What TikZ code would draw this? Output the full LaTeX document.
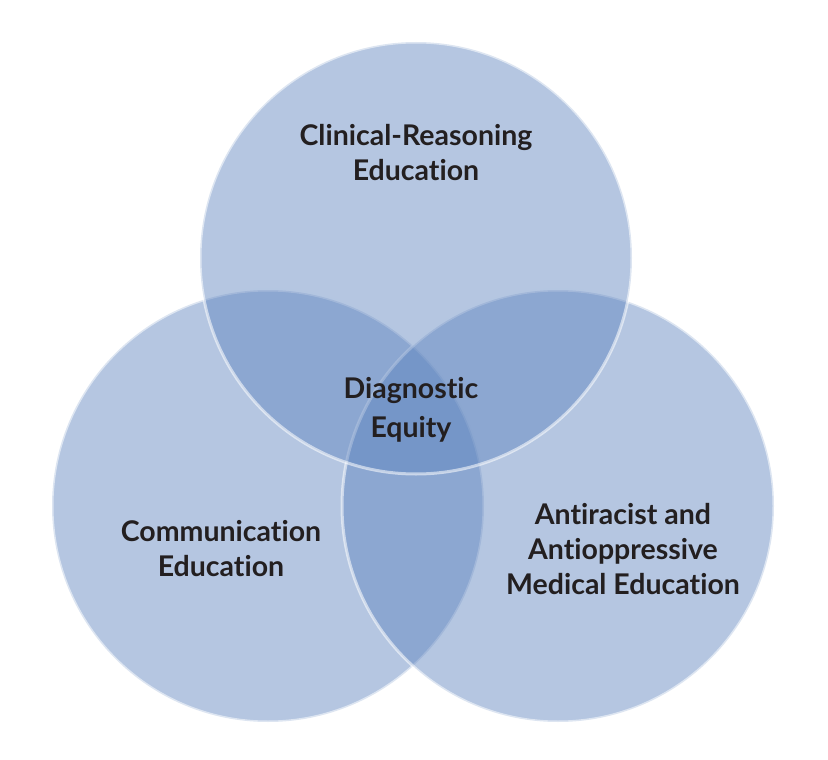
\documentclass[tikz,border=0pt]{standalone}
\usepackage{fontspec}
\setmainfont{Lato}[Ligatures={NoCommon}]
\usepackage{xcolor}
\usepackage{tikz}

\definecolor{vennblue}{RGB}{90,129,189}
\definecolor{textdark}{RGB}{35,31,32}

\begin{document}
\begin{tikzpicture}[x=1pt, y=-1pt,
    set/.style={fill=vennblue, fill opacity=0.45, draw=white, draw opacity=0.55, line width=3pt},
    label/.style={align=center, text=textdark, font=\bfseries\fontsize{28.5}{35}\selectfont}]
    \useasboundingbox (0,0) rectangle (828,760);
    % the three sets
    \draw[set] (268,506) circle (216);
    \draw[set] (558,506) circle (216);
    \draw[set] (416,258) circle (216);
    % labels
    \node[label] (clinical) at (416,153) {Clinical-Reasoning\\Education};
    \node[label] (comm) at (221,549) {Communication\\Education};
    \node[label] (anti) at (623,549) {Antiracist and\\Antioppressive\\Medical Education};
    \node[label, font=\bfseries\fontsize{28.5}{39}\selectfont] (equity) at (411,410) {Diagnostic\\Equity};
\end{tikzpicture}
\end{document}
